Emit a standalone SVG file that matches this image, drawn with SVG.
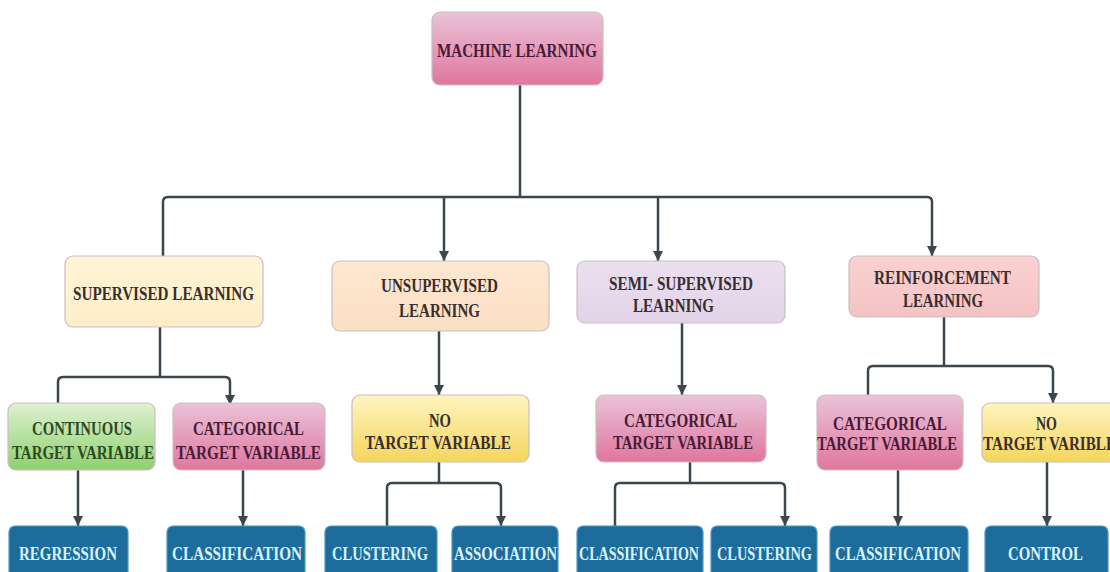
<svg xmlns="http://www.w3.org/2000/svg" width="1110" height="572" viewBox="0 0 1110 572">
<defs>
<style>
.box{stroke:#c9bfc4;stroke-width:1.2}
.leaf{fill:#1d6c9b;stroke:#4f97c2;stroke-width:1.2}
.t{font-family:"Liberation Serif","Times New Roman",serif;font-weight:bold;font-size:19px;text-anchor:middle;fill:#3b2e2e}
.tl{fill:#d9f3ff}
.tg{fill:#2d4a24}
.tp{fill:#4a1b38}
.c{fill:none;stroke:#3c474d;stroke-width:2.5;stroke-linejoin:round}
.a{marker-end:url(#arr)}
</style>
<marker id="arr" viewBox="0 0 10 10" markerWidth="10" markerHeight="10" markerUnits="userSpaceOnUse" refX="10" refY="5" orient="auto">
<path d="M0,0 L10,5 L0,10 z" fill="#3c474d"/>
</marker>
<linearGradient id="gPink" x1="0" y1="0" x2="0" y2="1"><stop offset="0" stop-color="#ebc3d8"/><stop offset="1" stop-color="#e0769e"/></linearGradient>
<linearGradient id="gGreen" x1="0" y1="0" x2="0" y2="1"><stop offset="0" stop-color="#dff1d2"/><stop offset="1" stop-color="#8ed06c"/></linearGradient>
<linearGradient id="gYellow" x1="0" y1="0" x2="0" y2="1"><stop offset="0" stop-color="#fff4c0"/><stop offset="1" stop-color="#f4d55c"/></linearGradient>
<linearGradient id="gCream" x1="0" y1="0" x2="0" y2="1"><stop offset="0" stop-color="#fff4d6"/><stop offset="1" stop-color="#fdeec8"/></linearGradient>
<linearGradient id="gPeach" x1="0" y1="0" x2="0" y2="1"><stop offset="0" stop-color="#fde8d2"/><stop offset="1" stop-color="#fbdfc2"/></linearGradient>
<linearGradient id="gLav" x1="0" y1="0" x2="0" y2="1"><stop offset="0" stop-color="#ebe0ee"/><stop offset="1" stop-color="#e2d3e8"/></linearGradient>
<linearGradient id="gRose" x1="0" y1="0" x2="0" y2="1"><stop offset="0" stop-color="#f9d2d2"/><stop offset="1" stop-color="#f4c2c4"/></linearGradient>
</defs>
<rect width="1110" height="572" fill="#ffffff"/>

<g id="connectors">
<path class="c" d="M520,85 V197"/>
<path class="c a" d="M163,256 V202 Q163,197 168,197 H927 Q932,197 932,202 V256"/>
<path class="c a" d="M444,197 V261"/>
<path class="c a" d="M658,197 V261"/>
<path class="c" d="M160,327 V377"/>
<path class="c a" d="M58,403 V382 Q58,377 63,377 H225 Q230,377 230,382 V405"/>
<path class="c a" d="M439,331 V395"/>
<path class="c a" d="M682,323 V395"/>
<path class="c" d="M944,317 V366"/>
<path class="c a" d="M868,395 V371 Q868,366 873,366 H1048 Q1053,366 1053,371 V403"/>
<path class="c a" d="M78,470 V526"/>
<path class="c a" d="M243,470 V526"/>
<path class="c" d="M439,462 V483"/>
<path class="c a" d="M387,526 V488 Q387,483 392,483 H496 Q501,483 501,488 V526"/>
<path class="c" d="M690,462 V483"/>
<path class="c a" d="M615,526 V488 Q615,483 620,483 H780 Q785,483 785,488 V526"/>
<path class="c a" d="M898,470 V526"/>
<path class="c a" d="M1047,462 V526"/>
</g>

<g id="ml">
<rect class="box" x="432" y="12" width="171" height="73" rx="8" fill="url(#gPink)"/>
<text class="t tp" x="517" y="56.5" textLength="160" lengthAdjust="spacingAndGlyphs">MACHINE LEARNING</text>
</g>
<g id="supervised">
<rect class="box" x="65" y="256" width="198" height="71" rx="8" fill="url(#gCream)"/>
<text class="t" x="163.5" y="299.5" textLength="181" lengthAdjust="spacingAndGlyphs">SUPERVISED LEARNING</text>
</g>
<g id="unsupervised">
<rect class="box" x="332" y="261" width="217" height="70" rx="8" fill="url(#gPeach)"/>
<text class="t" x="439.5" y="291.5" textLength="117" lengthAdjust="spacingAndGlyphs">UNSUPERVISED</text>
<text class="t" x="439.5" y="316.5" textLength="81" lengthAdjust="spacingAndGlyphs">LEARNING</text>
</g>
<g id="semi">
<rect class="box" x="577" y="261" width="208" height="62" rx="8" fill="url(#gLav)"/>
<text class="t" x="681" y="289.5" textLength="144" lengthAdjust="spacingAndGlyphs">SEMI- SUPERVISED</text>
<text class="t" x="673.5" y="311.5" textLength="81" lengthAdjust="spacingAndGlyphs">LEARNING</text>
</g>
<g id="reinforcement">
<rect class="box" x="849" y="256" width="190" height="61" rx="8" fill="url(#gRose)"/>
<text class="t" x="942.5" y="283.5" textLength="137" lengthAdjust="spacingAndGlyphs">REINFORCEMENT</text>
<text class="t" x="943" y="306.5" textLength="80" lengthAdjust="spacingAndGlyphs">LEARNING</text>
</g>
<g id="continuous">
<rect class="box" x="8" y="403" width="147" height="67" rx="8" fill="url(#gGreen)"/>
<text class="t tg" x="82" y="434.5" textLength="100" lengthAdjust="spacingAndGlyphs">CONTINUOUS</text>
<text class="t tg" x="83" y="458.5" textLength="142" lengthAdjust="spacingAndGlyphs">TARGET VARIABLE</text>
</g>
<g id="categorical1">
<rect class="box" x="173" y="403" width="152" height="67" rx="8" fill="url(#gPink)"/>
<text class="t tp" x="248.5" y="434.5" textLength="111" lengthAdjust="spacingAndGlyphs">CATEGORICAL</text>
<text class="t tp" x="248.5" y="458.5" textLength="145" lengthAdjust="spacingAndGlyphs">TARGET VARIABLE</text>
</g>
<g id="notarget1">
<rect class="box" x="352" y="395" width="177" height="67" rx="8" fill="url(#gYellow)"/>
<text class="t" x="440" y="426.5" textLength="22" lengthAdjust="spacingAndGlyphs">NO</text>
<text class="t" x="438" y="448.5" textLength="146" lengthAdjust="spacingAndGlyphs">TARGET VARIABLE</text>
</g>
<g id="categorical2">
<rect class="box" x="596" y="395" width="170" height="67" rx="8" fill="url(#gPink)"/>
<text class="t tp" x="680.5" y="426.5" textLength="113" lengthAdjust="spacingAndGlyphs">CATEGORICAL</text>
<text class="t tp" x="683" y="448.5" textLength="140" lengthAdjust="spacingAndGlyphs">TARGET VARIABLE</text>
</g>
<g id="categorical3">
<rect class="box" x="817" y="395" width="146" height="75" rx="8" fill="url(#gPink)"/>
<text class="t tp" x="890" y="429.5" textLength="114" lengthAdjust="spacingAndGlyphs">CATEGORICAL</text>
<text class="t tp" x="887" y="449.5" textLength="140" lengthAdjust="spacingAndGlyphs">TARGET VARIABLE</text>
</g>
<g id="notarget2">
<rect class="box" x="982" y="403" width="140" height="59" rx="8" fill="url(#gYellow)"/>
<text class="t" x="1046.5" y="429.5" textLength="21" lengthAdjust="spacingAndGlyphs">NO</text>
<text class="t" x="983" y="449.5" style="text-anchor:start" textLength="133" lengthAdjust="spacingAndGlyphs">TARGET VARIBLE</text>
</g>

<g id="regression">
<rect class="leaf" x="9" y="526" width="119" height="54" rx="6"/>
<text class="t tl" x="68" y="559.5" textLength="98" lengthAdjust="spacingAndGlyphs">REGRESSION</text>
</g>
<g id="classification1">
<rect class="leaf" x="167" y="526" width="138" height="54" rx="6"/>
<text class="t tl" x="237" y="559.5" textLength="130" lengthAdjust="spacingAndGlyphs">CLASSIFICATION</text>
</g>
<g id="clustering1">
<rect class="leaf" x="325" y="526" width="112" height="54" rx="6"/>
<text class="t tl" x="380" y="559.5" textLength="96" lengthAdjust="spacingAndGlyphs">CLUSTERING</text>
</g>
<g id="association">
<rect class="leaf" x="452" y="526" width="106" height="54" rx="6"/>
<text class="t tl" x="505.5" y="559.5" textLength="103" lengthAdjust="spacingAndGlyphs">ASSOCIATION</text>
</g>
<g id="classification2">
<rect class="leaf" x="577" y="526" width="126" height="54" rx="6"/>
<text class="t tl" x="639" y="559.5" textLength="120" lengthAdjust="spacingAndGlyphs">CLASSIFICATION</text>
</g>
<g id="clustering2">
<rect class="leaf" x="711" y="526" width="106" height="54" rx="6"/>
<text class="t tl" x="764.5" y="559.5" textLength="95" lengthAdjust="spacingAndGlyphs">CLUSTERING</text>
</g>
<g id="classification3">
<rect class="leaf" x="830" y="526" width="138" height="54" rx="6"/>
<text class="t tl" x="898" y="559.5" textLength="126" lengthAdjust="spacingAndGlyphs">CLASSIFICATION</text>
</g>
<g id="control">
<rect class="leaf" x="985" y="526" width="123" height="54" rx="6"/>
<text class="t tl" x="1045.5" y="559.5" textLength="75" lengthAdjust="spacingAndGlyphs">CONTROL</text>
</g>
</svg>
